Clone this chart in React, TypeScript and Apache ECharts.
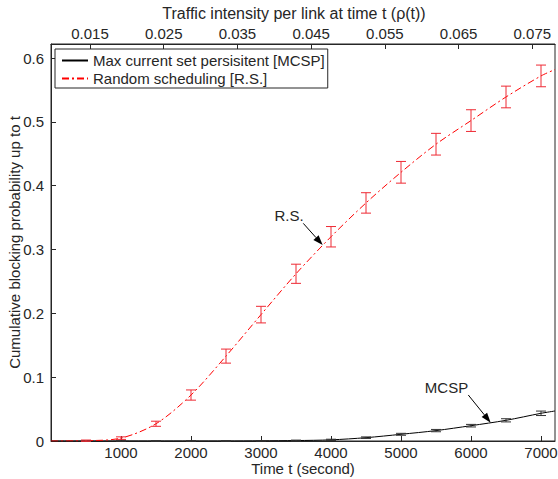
import React, { useEffect, useRef } from "react";
import * as echarts from "echarts";

// ---- data ----
const tBars = [500, 1000, 1500, 2000, 2500, 3000, 3500, 4000, 4500, 5000, 5500, 6000, 6500, 7000];
const rsMean = [0.0005, 0.0045, 0.027, 0.072, 0.133, 0.198, 0.262, 0.32, 0.373, 0.421, 0.465, 0.502, 0.539, 0.572];
const rsErr = [0.001, 0.002, 0.004, 0.008, 0.011, 0.013, 0.015, 0.016, 0.016, 0.017, 0.017, 0.017, 0.017, 0.017];
const mcspMean = [0, 0, 0, 0, 0, 0.0002, 0.0007, 0.0018, 0.0052, 0.0105, 0.0163, 0.024, 0.0324, 0.0434];
const mcspErr = [0.0005, 0.0005, 0.0005, 0.0005, 0.0005, 0.0005, 0.0007, 0.001, 0.0012, 0.0015, 0.0018, 0.002, 0.0025, 0.0035];

const tLine = [0, 500, 1000, 1500, 2000, 2500, 3000, 3500, 4000, 4500, 5000, 5500, 6000, 6500, 7000, 7200];
const rsLine = [0, 0.0005, 0.0045, 0.027, 0.072, 0.133, 0.198, 0.262, 0.32, 0.373, 0.421, 0.465, 0.502, 0.539, 0.572, 0.582];
const mcspLine = [0, 0, 0, 0, 0, 0, 0.0002, 0.0007, 0.0018, 0.0052, 0.0105, 0.0163, 0.024, 0.0324, 0.0434, 0.047];

const xTicks = [1000, 2000, 3000, 4000, 5000, 6000, 7000];
const yTicks = [0, 0.1, 0.2, 0.3, 0.4, 0.5, 0.6];
const rhoTicks = [0.015, 0.025, 0.035, 0.045, 0.055, 0.065, 0.075];
const tRange = [0, 7200];
const yRange = [0, 0.622];
const rhoRange = [0.00971, 0.07808];

const nameMCSP = "Max current set persisitent [MCSP]";
const nameRS = "Random scheduling [R.S.]";

// annotations: [text position, arrow tail, arrow tip] in data coords
const annotations = [
  { text: "R.S.", label: [3400, 0.354], tail: [3604, 0.341], tip: [3881, 0.307] },
  { text: "MCSP", label: [5650, 0.0846], tail: [5961, 0.0721], tip: [6281, 0.0287] },
];

const FONT = "'Liberation Sans', Arial, Helvetica, sans-serif";
const INK = "#262626";
const RED = "#ff0000";
const RED_BAR = "#ee2a34";

function errorBarSeries(name: string, means: number[], errs: number[], color: string) {
  const data = tBars.map((t, i) => [t, means[i] - errs[i], means[i] + errs[i]]);
  return {
    type: "custom",
    name,
    data,
    z: 5,
    encode: { x: 0, y: [1, 2] },
    renderItem: (_params: any, api: any) => {
      const x = api.value(0);
      const lo = api.coord([x, api.value(1)]);
      const hi = api.coord([x, api.value(2)]);
      const hw = 5;
      const st = { stroke: color, lineWidth: 1 };
      return {
        type: "group",
        children: [
          { type: "line", shape: { x1: hi[0], y1: hi[1], x2: lo[0], y2: lo[1] }, style: st },
          { type: "line", shape: { x1: hi[0] - hw, y1: hi[1], x2: hi[0] + hw, y2: hi[1] }, style: st },
          { type: "line", shape: { x1: lo[0] - hw, y1: lo[1], x2: lo[0] + hw, y2: lo[1] }, style: st },
        ],
      };
    },
  };
}

export default function App() {
  const ref = useRef<HTMLDivElement>(null);
  useEffect(() => {
    if (!ref.current) return;
    const chart = echarts.init(ref.current, undefined, { renderer: "svg" });
    const axisLineStyle = { color: INK, width: 1 };
    const nameStyle = { fontSize: 15, lineHeight: 15, color: INK, fontFamily: FONT };
    const option: any = {
      animation: false,
      textStyle: { fontFamily: FONT, color: INK },
      grid: {
        left: 51,
        right: 3,
        top: 44,
        bottom: 38,
        show: true,
        borderColor: INK,
        borderWidth: 1,
        outerBoundsMode: "none",
      },
      legend: {
        orient: "vertical",
        left: 55,
        top: 49,
        data: [nameMCSP, nameRS],
        backgroundColor: "#fff",
        borderColor: INK,
        borderWidth: 1,
        borderRadius: 0,
        padding: [4, 3, 2, 6],
        itemGap: 3,
        itemWidth: 26,
        itemHeight: 14,
        itemStyle: { opacity: 0, borderWidth: 0 },
        textStyle: { fontSize: 15, color: INK, fontFamily: FONT },
      },
      xAxis: [
        {
          type: "value",
          min: tRange[0],
          max: tRange[1],
          position: "bottom",
          name: "Time t (second)",
          nameLocation: "middle",
          nameGap: 20,
          nameMoveOverlap: false,
          nameTextStyle: nameStyle,
          axisLine: { show: true, lineStyle: axisLineStyle },
          axisTick: { show: true, inside: true, length: 5, lineStyle: axisLineStyle, customValues: xTicks },
          axisLabel: {
            fontSize: 15,
            lineHeight: 15,
            color: INK,
            margin: 4,
            customValues: xTicks,
            formatter: (v: number) => String(v),
          },
          splitLine: { show: false },
        },
        {
          type: "value",
          min: rhoRange[0],
          max: rhoRange[1],
          position: "top",
          name: "Traffic intensity per link at time t (ρ(t))",
          nameLocation: "middle",
          nameGap: 23,
          nameMoveOverlap: false,
          nameTextStyle: { ...nameStyle, fontSize: 16, lineHeight: 16, padding: [0, 18, 0, 0] },
          axisLine: { show: true, lineStyle: axisLineStyle },
          axisTick: { show: true, inside: true, length: 5, lineStyle: axisLineStyle, customValues: rhoTicks },
          axisLabel: {
            fontSize: 15,
            color: INK,
            margin: 3,
            customValues: rhoTicks,
            formatter: (v: number) => v.toFixed(3),
          },
          splitLine: { show: false },
        },
      ],
      yAxis: {
        type: "value",
        min: yRange[0],
        max: yRange[1],
        name: "Cumulative blocking probability up to t",
        nameLocation: "middle",
        nameGap: 29,
        nameMoveOverlap: false,
        nameTextStyle: nameStyle,
        axisLine: { show: true, lineStyle: axisLineStyle },
        axisTick: { show: true, inside: true, length: 5, lineStyle: axisLineStyle, customValues: yTicks },
        axisLabel: {
          fontSize: 15,
          color: INK,
          margin: 7,
          customValues: yTicks,
          formatter: (v: number) => (v === 0 ? "0" : v.toFixed(1)),
        },
        splitLine: { show: false },
      },
      series: [
        {
          type: "line",
          name: nameMCSP,
          data: tLine.map((t, i) => [t, mcspLine[i]]),
          smooth: 0.3,
          symbol: "none",
          lineStyle: { color: "#000", width: 1, type: "solid" },
          itemStyle: { color: "#000" },
          z: 3,
        },
        {
          type: "line",
          name: nameRS,
          data: tLine.map((t, i) => [t, rsLine[i]]),
          smooth: 0.3,
          symbol: "none",
          lineStyle: { color: RED, width: 1, type: [7, 3, 2, 3] },
          itemStyle: { color: RED },
          z: 4,
        },
        errorBarSeries("mcspErr", mcspMean, mcspErr, "#333"),
        errorBarSeries("rsErr", rsMean, rsErr, RED_BAR),
      ],
    };
    chart.setOption(option);

    const toPx = (p: number[]) => chart.convertToPixel({ xAxisIndex: 0, yAxisIndex: 0 }, p) as number[];
    const graphics: any[] = [];
    annotations.forEach((a) => {
      const lp = toPx(a.label);
      const tp = toPx(a.tail);
      const hp = toPx(a.tip);
      const dx = hp[0] - tp[0];
      const dy = hp[1] - tp[1];
      const len = Math.sqrt(dx * dx + dy * dy);
      const ux = dx / len;
      const uy = dy / len;
      const L = 10;
      const W = 3.5;
      const bx = hp[0] - ux * L;
      const by = hp[1] - uy * L;
      graphics.push({
        type: "text",
        x: lp[0],
        y: lp[1],
        style: {
          text: a.text,
          fontSize: 15,
          fontFamily: FONT,
          fill: INK,
          align: "center",
          verticalAlign: "middle",
          textAlign: "center",
          textVerticalAlign: "middle",
        },
        z: 10,
      });
      graphics.push({
        type: "line",
        shape: { x1: tp[0], y1: tp[1], x2: bx, y2: by },
        style: { stroke: "#000", lineWidth: 1 },
        z: 10,
      });
      graphics.push({
        type: "polygon",
        shape: {
          points: [
            [hp[0], hp[1]],
            [bx - uy * W, by + ux * W],
            [bx + uy * W, by - ux * W],
          ],
        },
        style: { fill: "#000" },
        z: 10,
      });
    });
    chart.setOption({ graphic: graphics });

    return () => chart.dispose();
  }, []);
  return (
    <div
      ref={ref}
      style={{ position: "absolute", left: 0, top: 0, width: 558, height: 479, background: "#fff" }}
    />
  );
}
